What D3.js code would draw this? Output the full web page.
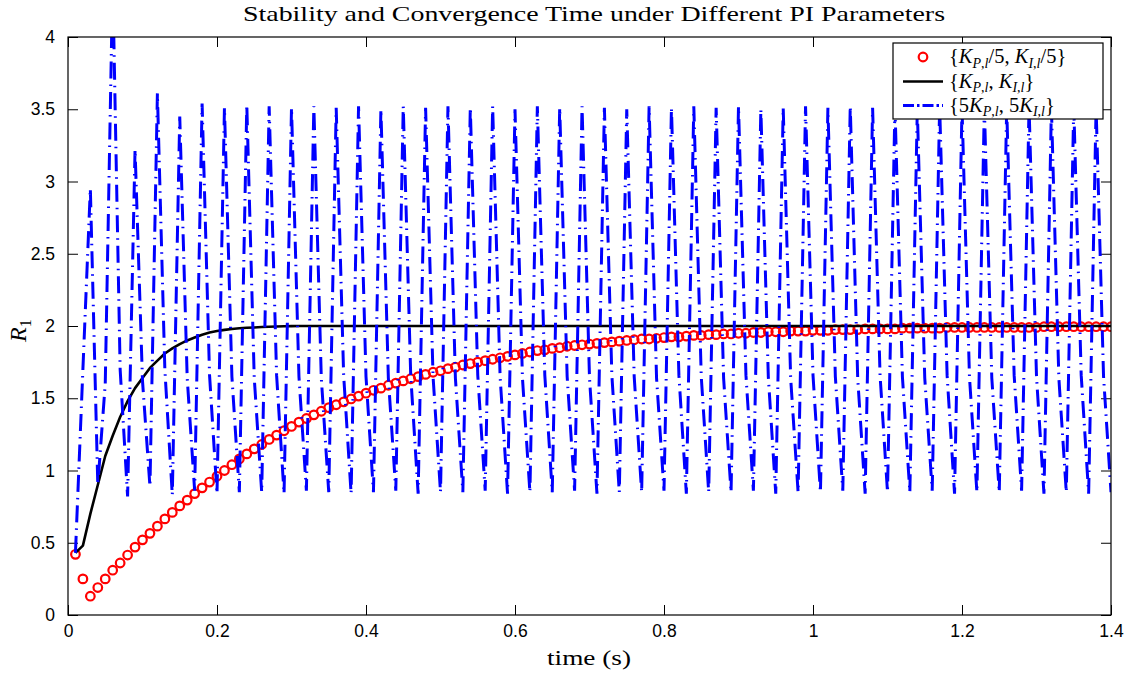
<!DOCTYPE html>
<html><head><meta charset="utf-8">
<script src="https://cdn.jsdelivr.net/npm/d3@7"></script>
<style>
html,body{margin:0;padding:0;background:#fff;}
svg{display:block;}
</style></head>
<body>
<svg id="chart" width="1137" height="675"></svg>
<script>
// ---- data (sampled every 0.01 s, t = 0.01 ... 1.40) ----
const dt = 0.01;
const xTicks = [0, 0.2, 0.4, 0.6, 0.8, 1, 1.2, 1.4];
const yTicks = [0, 0.5, 1, 1.5, 2, 2.5, 3, 3.5, 4];
const seriesNames = ["{K_{P,l}/5, K_{I,l}/5}", "{K_{P,l}, K_{I,l}}", "{5K_{P,l}, 5K_{I,l}}"];

const redValues = [
0.42,0.25,0.13,0.19,0.25,0.31,0.36,0.415,0.47,0.52,
0.565,0.615,0.665,0.71,0.755,0.795,0.84,0.88,0.92,0.96,
1.00,1.04,1.08,1.115,1.15,1.18,1.215,1.245,1.275,1.305,
1.335,1.36,1.385,1.41,1.435,1.455,1.475,1.495,1.515,1.535,
1.555,1.57,1.59,1.605,1.62,1.635,1.65,1.665,1.68,1.69,
1.705,1.715,1.73,1.74,1.75,1.76,1.77,1.78,1.79,1.80,
1.81,1.82,1.83,1.835,1.845,1.85,1.86,1.865,1.87,1.875,
1.88,1.885,1.89,1.895,1.90,1.905,1.91,1.91,1.915,1.92,
1.925,1.925,1.93,1.935,1.935,1.94,1.94,1.945,1.945,1.95,
1.95,1.955,1.955,1.96,1.96,1.96,1.965,1.965,1.965,1.97,
1.97,1.97,1.975,1.975,1.975,1.975,1.98,1.98,1.98,1.98,
1.98,1.985,1.985,1.985,1.985,1.985,1.985,1.99,1.99,1.99,
1.99,1.99,1.99,1.99,1.99,1.99,1.99,1.99,1.99,1.99,
1.995,1.995,1.995,1.995,1.995,1.995,1.995,1.995,1.995,1.995
];

const blackValues = [
0.43,0.48,0.70,0.90,1.10,1.24,1.37,1.48,1.57,1.64,
1.71,1.76,1.81,1.845,1.875,1.90,1.92,1.94,1.955,1.965,
1.973,1.979,1.984,1.988,1.99,1.993,1.995,1.997,1.998,1.999,
2,2,2,2,2,2,2,2,2,2,
2,2,2,2,2,2,2,2,2,2,
2,2,2,2,2,2,2,2,2,2,
2,2,2,2,2,2,2,2,2,2,
2,2,2,2,2,2,2,2,2,2,
2,2,2,2,2,2,2,2,2,2,
2,2,2,2,2,2,2,2,2,2,
2,2,2,2,2,2,2,2,2,2,
2,2,2,2,2,2,2,2,2,2,
2,2,2,2,2,2,2,2,2,2,
2,2,2,2,2,2,2,2,2,2
];

const blueValues = [
0.43,1.70,2.95,0.90,1.60,4.40,1.70,0.82,3.22,1.62,0.89,3.61,1.70,0.83,3.45,1.64,0.86,3.54,1.66,0.84,3.51,1.65,0.85,3.53,
1.64,0.85,3.52, 1.66,0.84,3.51, 1.65,0.86,3.52, 1.64,0.85,3.51, 1.66,0.84,3.52, 1.65,0.85,3.50, 1.64,0.86,3.52, 1.66,0.84,3.51,
1.65,0.85,3.52, 1.64,0.85,3.51, 1.66,0.86,3.52, 1.65,0.84,3.50, 1.64,0.85,3.52, 1.66,0.85,3.51, 1.65,0.86,3.52, 1.64,0.84,3.51,
1.66,0.85,3.50, 1.65,0.85,3.52, 1.64,0.86,3.51, 1.66,0.84,3.52, 1.65,0.85,3.51, 1.64,0.85,3.52, 1.66,0.86,3.50, 1.65,0.84,3.51,
1.64,0.85,3.52, 1.66,0.85,3.51, 1.65,0.86,3.52, 1.64,0.84,3.51, 1.66,0.85,3.52, 1.65,0.85,3.50, 1.64,0.86,3.52, 1.66,0.84,3.51,
1.65,0.85,3.52, 1.64,0.85,3.51, 1.66,0.86,3.52, 1.65,0.84,3.51, 1.64,0.85,3.52, 1.66,0.84,3.51,
1.65,0.85
];

const times = redValues.map((_, i) => +((i + 1) * dt).toFixed(2));

// ---- layout ----
const svg = d3.select("#chart");
const L = 68, R = 1111, T = 37, B = 615;
const x = d3.scaleLinear().domain([0, 1.4]).range([L, R]);
const y = d3.scaleLinear().domain([0, 4]).range([B, T]);

svg.append("defs").append("clipPath").attr("id", "plotclip")
  .append("rect").attr("x", L).attr("y", T).attr("width", R - L).attr("height", B - T);

svg.append("rect").attr("x", L).attr("y", T).attr("width", R - L).attr("height", B - T)
  .attr("fill", "#fff");

const fmt = d => String(+(+d).toFixed(1));
const tickFont = "'Liberation Sans', Arial, sans-serif";

// axes (ticks inside, box on)
const gx = svg.append("g").attr("transform", `translate(0,${B})`)
  .call(d3.axisBottom(x).tickValues(xTicks).tickSize(-10).tickPadding(14).tickFormat(fmt));
const gxt = svg.append("g").attr("transform", `translate(0,${T})`)
  .call(d3.axisTop(x).tickValues(xTicks).tickSize(-10).tickFormat(""));
const gy = svg.append("g").attr("transform", `translate(${L},0)`)
  .call(d3.axisLeft(y).tickValues(yTicks).tickSize(-10).tickPadding(13).tickFormat(fmt));
const gyr = svg.append("g").attr("transform", `translate(${R},0)`)
  .call(d3.axisRight(y).tickValues(yTicks).tickSize(-10).tickFormat(""));
[gx, gxt, gy, gyr].forEach(g => {
  g.select(".domain").remove();
  g.selectAll(".tick line").attr("stroke", "#000").attr("stroke-width", 1);
  g.selectAll("text").attr("font-family", tickFont).attr("font-size", 17.5).attr("fill", "#000");
});
gx.selectAll("text").attr("dy", "0.45em");

// ---- series ----
const plot = svg.append("g").attr("clip-path", "url(#plotclip)");
const line = d3.line().x((d, i) => x(times[i])).y(d => y(d));

plot.selectAll("circle.red").data(redValues).join("circle")
  .attr("class", "red")
  .attr("cx", (d, i) => x(times[i])).attr("cy", d => y(d)).attr("r", 4.3)
  .attr("fill", "none").attr("stroke", "#ff0000").attr("stroke-width", 2.2);

plot.append("path").datum(blackValues).attr("d", line)
  .attr("fill", "none").attr("stroke", "#000").attr("stroke-width", 2.6)
  .attr("stroke-linejoin", "round");

plot.append("path").datum(blueValues).attr("d", line)
  .attr("fill", "none").attr("stroke", "#0000ff").attr("stroke-width", 3)
  .attr("stroke-dasharray", "17,6,1.5,6");

// frame
svg.append("rect").attr("x", L).attr("y", T).attr("width", R - L).attr("height", B - T)
  .attr("fill", "none").attr("stroke", "#000").attr("stroke-width", 1.2);

// ---- text ----
const serif = "'Liberation Serif', 'Times New Roman', serif";
svg.append("text").attr("x", 594).attr("y", 21).attr("text-anchor", "middle")
  .attr("font-family", serif).attr("font-size", 22)
  .attr("textLength", 702).attr("lengthAdjust", "spacingAndGlyphs")
  .text("Stability and Convergence Time under Different PI Parameters");

svg.append("text").attr("x", 589).attr("y", 665).attr("text-anchor", "middle")
  .attr("font-family", serif).attr("font-size", 22)
  .attr("textLength", 84).attr("lengthAdjust", "spacingAndGlyphs")
  .text("time (s)");

const yl = svg.append("text").attr("transform", "translate(26,342) rotate(-90)")
  .attr("font-family", serif).attr("font-size", 24);
yl.append("tspan").attr("font-style", "italic").text("R");
yl.append("tspan").attr("font-size", 16).attr("dy", 5).text("1");

// math-ish rendering of a legend label like "{K_{P,l}/5, K_{I,l}/5}"
function mathLabel(sel, str) {
  const tokens = [];
  let i = 0;
  while (i < str.length) {
    if (str[i] === "_" && str[i + 1] === "{") {
      const j = str.indexOf("}", i);
      tokens.push({ sub: true, text: str.slice(i + 2, j) });
      i = j + 1;
    } else {
      let j = i;
      while (j < str.length && !(str[j] === "_" && str[j + 1] === "{")) j++;
      tokens.push({ sub: false, text: str.slice(i, j) });
      i = j;
    }
  }
  let inSub = false;
  tokens.forEach(tk => {
    tk.text.split("").forEach(ch => {
      const ts = sel.append("tspan").text(ch);
      if (/[A-Za-z]/.test(ch)) ts.attr("font-style", "italic");
      if (tk.sub) { ts.attr("font-size", 14); if (!inSub) { ts.attr("dy", 4.5); inSub = true; } }
      else { if (inSub) { ts.attr("dy", -4.5); inSub = false; } }
    });
  });
}

const lg = svg.append("g");
lg.append("rect").attr("x", 893).attr("y", 43).attr("width", 210).attr("height", 76)
  .attr("fill", "#fff").attr("stroke", "#000").attr("stroke-width", 1.2);
const rows = [57, 81.5, 105.5];
lg.append("circle").attr("cx", 923).attr("cy", rows[0]).attr("r", 4.3)
  .attr("fill", "none").attr("stroke", "#ff0000").attr("stroke-width", 2.2);
lg.append("line").attr("x1", 903).attr("x2", 943).attr("y1", rows[1]).attr("y2", rows[1])
  .attr("stroke", "#000").attr("stroke-width", 2.6);
lg.append("line").attr("x1", 903).attr("x2", 943).attr("y1", rows[2]).attr("y2", rows[2])
  .attr("stroke", "#0000ff").attr("stroke-width", 3).attr("stroke-dasharray", "11,3,2.5,3");
seriesNames.forEach((s, k) => {
  lg.append("text").attr("x", 949).attr("y", rows[k] + 6)
    .attr("font-family", serif).attr("font-size", 20.5)
    .call(t => mathLabel(t, s));
});
</script>
</body></html>
